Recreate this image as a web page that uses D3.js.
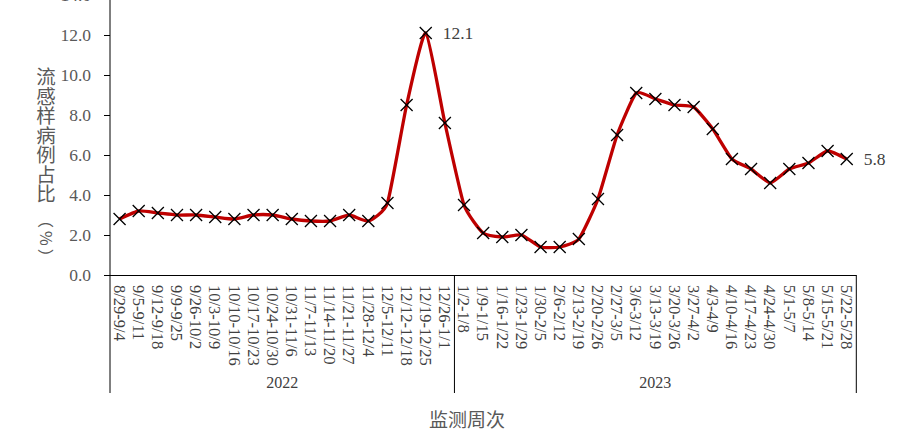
<!DOCTYPE html>
<html><head><meta charset="utf-8">
<script src="https://cdn.jsdelivr.net/npm/d3@7"></script>
<style>body{margin:0;background:#fff}svg{display:block}</style>
</head><body><svg id="c" width="922" height="435"></svg>
<script>
const weeks2022 = ["8/29-9/4","9/5-9/11","9/12-9/18","9/9-9/25","9/26-10/2","10/3-10/9","10/10-10/16","10/17-10/23","10/24-10/30","10/31-11/6","11/7-11/13","11/14-11/20","11/21-11/27","11/28-12/4","12/5-12/11","12/12-12/18","12/19-12/25","12/26-1/1"];
const weeks2023 = ["1/2-1/8","1/9-1/15","1/16-1/22","1/23-1/29","1/30-2/5","2/6-2/12","2/13-2/19","2/20-2/26","2/27-3/5","3/6-3/12","3/13-3/19","3/20-3/26","3/27-4/2","4/3-4/9","4/10-4/16","4/17-4/23","4/24-4/30","5/1-5/7","5/8-5/14","5/15-5/21","5/22-5/28"];
const values2022 = [2.8,3.2,3.1,3.0,3.0,2.9,2.8,3.0,3.0,2.8,2.7,2.7,3.0,2.7,3.6,8.5,12.1,7.6];
const values2023 = [3.5,2.1,1.9,2.0,1.4,1.4,1.8,3.8,7.0,9.1,8.8,8.5,8.4,7.3,5.8,5.3,4.6,5.3,5.6,6.2,5.8];
const years = ["2022","2023"];
const yTicks = [0,2,4,6,8,10,12,14];
const labelIdx = [16, 38];

(function(){
const cats = weeks2022.concat(weeks2023);
const vals = values2022.concat(values2023);
const svg = d3.select("#c");
const left = 110, right = 856.3, topY = -5, base = 275;
const x = d3.scaleBand().domain(cats).range([left, right]).padding(0);
const y = d3.scaleLinear().domain([0,14]).range([base, topY]);
const serif = "'Liberation Serif','Times New Roman',serif";
const cjk = "'Noto Sans CJK SC',sans-serif";

// y axis
const ya = svg.append("g").attr("transform",`translate(${left},0)`)
  .call(d3.axisLeft(y).tickValues(yTicks).tickFormat(d3.format(".1f")).tickSize(6).tickPadding(13));
ya.select(".domain").attr("stroke","#000").attr("d",`M0,${topY}V${base}`);
ya.selectAll(".tick line").attr("stroke","#000");
ya.selectAll(".tick text").attr("font-family",serif).attr("font-size",17.5).attr("fill","#595959");

// x axis
svg.append("line").attr("x1",left-6).attr("x2",right).attr("y1",base+0.5).attr("y2",base+0.5).attr("stroke","#000");
const seps = [left, x(weeks2023[0]), right];
seps.forEach(s=>svg.append("line").attr("x1",s).attr("x2",s).attr("y1",base).attr("y2",393).attr("stroke","#000"));
svg.append("g").selectAll("text").data(cats).join("text")
  .attr("transform",d=>`translate(${x(d)+x.bandwidth()/2},285) rotate(90)`)
  .attr("dy","0.35em").attr("text-anchor","start")
  .attr("font-family",serif).attr("font-size",16.5).attr("fill","#404040").text(d=>d);
[[weeks2022,years[0]],[weeks2023,years[1]]].forEach(([w,yr])=>{
  const cx = (x(w[0]) + x(w[w.length-1]) + x.bandwidth())/2;
  svg.append("text").attr("x",cx).attr("y",388).attr("text-anchor","middle")
    .attr("font-family",serif).attr("font-size",16).attr("fill","#404040").text(yr);
});

// titles
svg.append("text").attr("x",467).attr("y",427).attr("text-anchor","middle")
  .attr("font-family",cjk).attr("font-size",19).attr("fill","#595959").text("监测周次");
svg.append("text").attr("x",46).attr("y",67).attr("style","writing-mode:vertical-rl")
  .attr("font-family",cjk).attr("font-size",19.5).attr("fill","#595959").text("流感样病例占比");
svg.append("text").attr("transform","translate(46,212) rotate(90)").attr("dy","0.35em")
  .attr("font-family",cjk).attr("font-size",16).attr("letter-spacing",3).attr("fill","#595959").text("（%）");

// line
const pts = cats.map((c,i)=>[x(c)+x.bandwidth()/2, y(vals[i])]);
svg.append("path").attr("d",d3.line().curve(d3.curveCardinal.tension(0.5))(pts))
  .attr("fill","none").attr("stroke","#BE0000").attr("stroke-width",3.3);
const m = 6;
svg.append("g").selectAll("path").data(pts).join("path")
  .attr("d",p=>`M${p[0]-m},${p[1]-m}L${p[0]+m},${p[1]+m}M${p[0]-m},${p[1]+m}L${p[0]+m},${p[1]-m}`)
  .attr("stroke","#000").attr("stroke-width",1.3);

// data labels
labelIdx.forEach(i=>{
  svg.append("text").attr("x",pts[i][0]+17).attr("y",pts[i][1]).attr("dy","0.35em")
    .attr("font-family",serif).attr("font-size",17.5).attr("fill","#404040").text(vals[i].toFixed(1));
});
})();
</script></body></html>
